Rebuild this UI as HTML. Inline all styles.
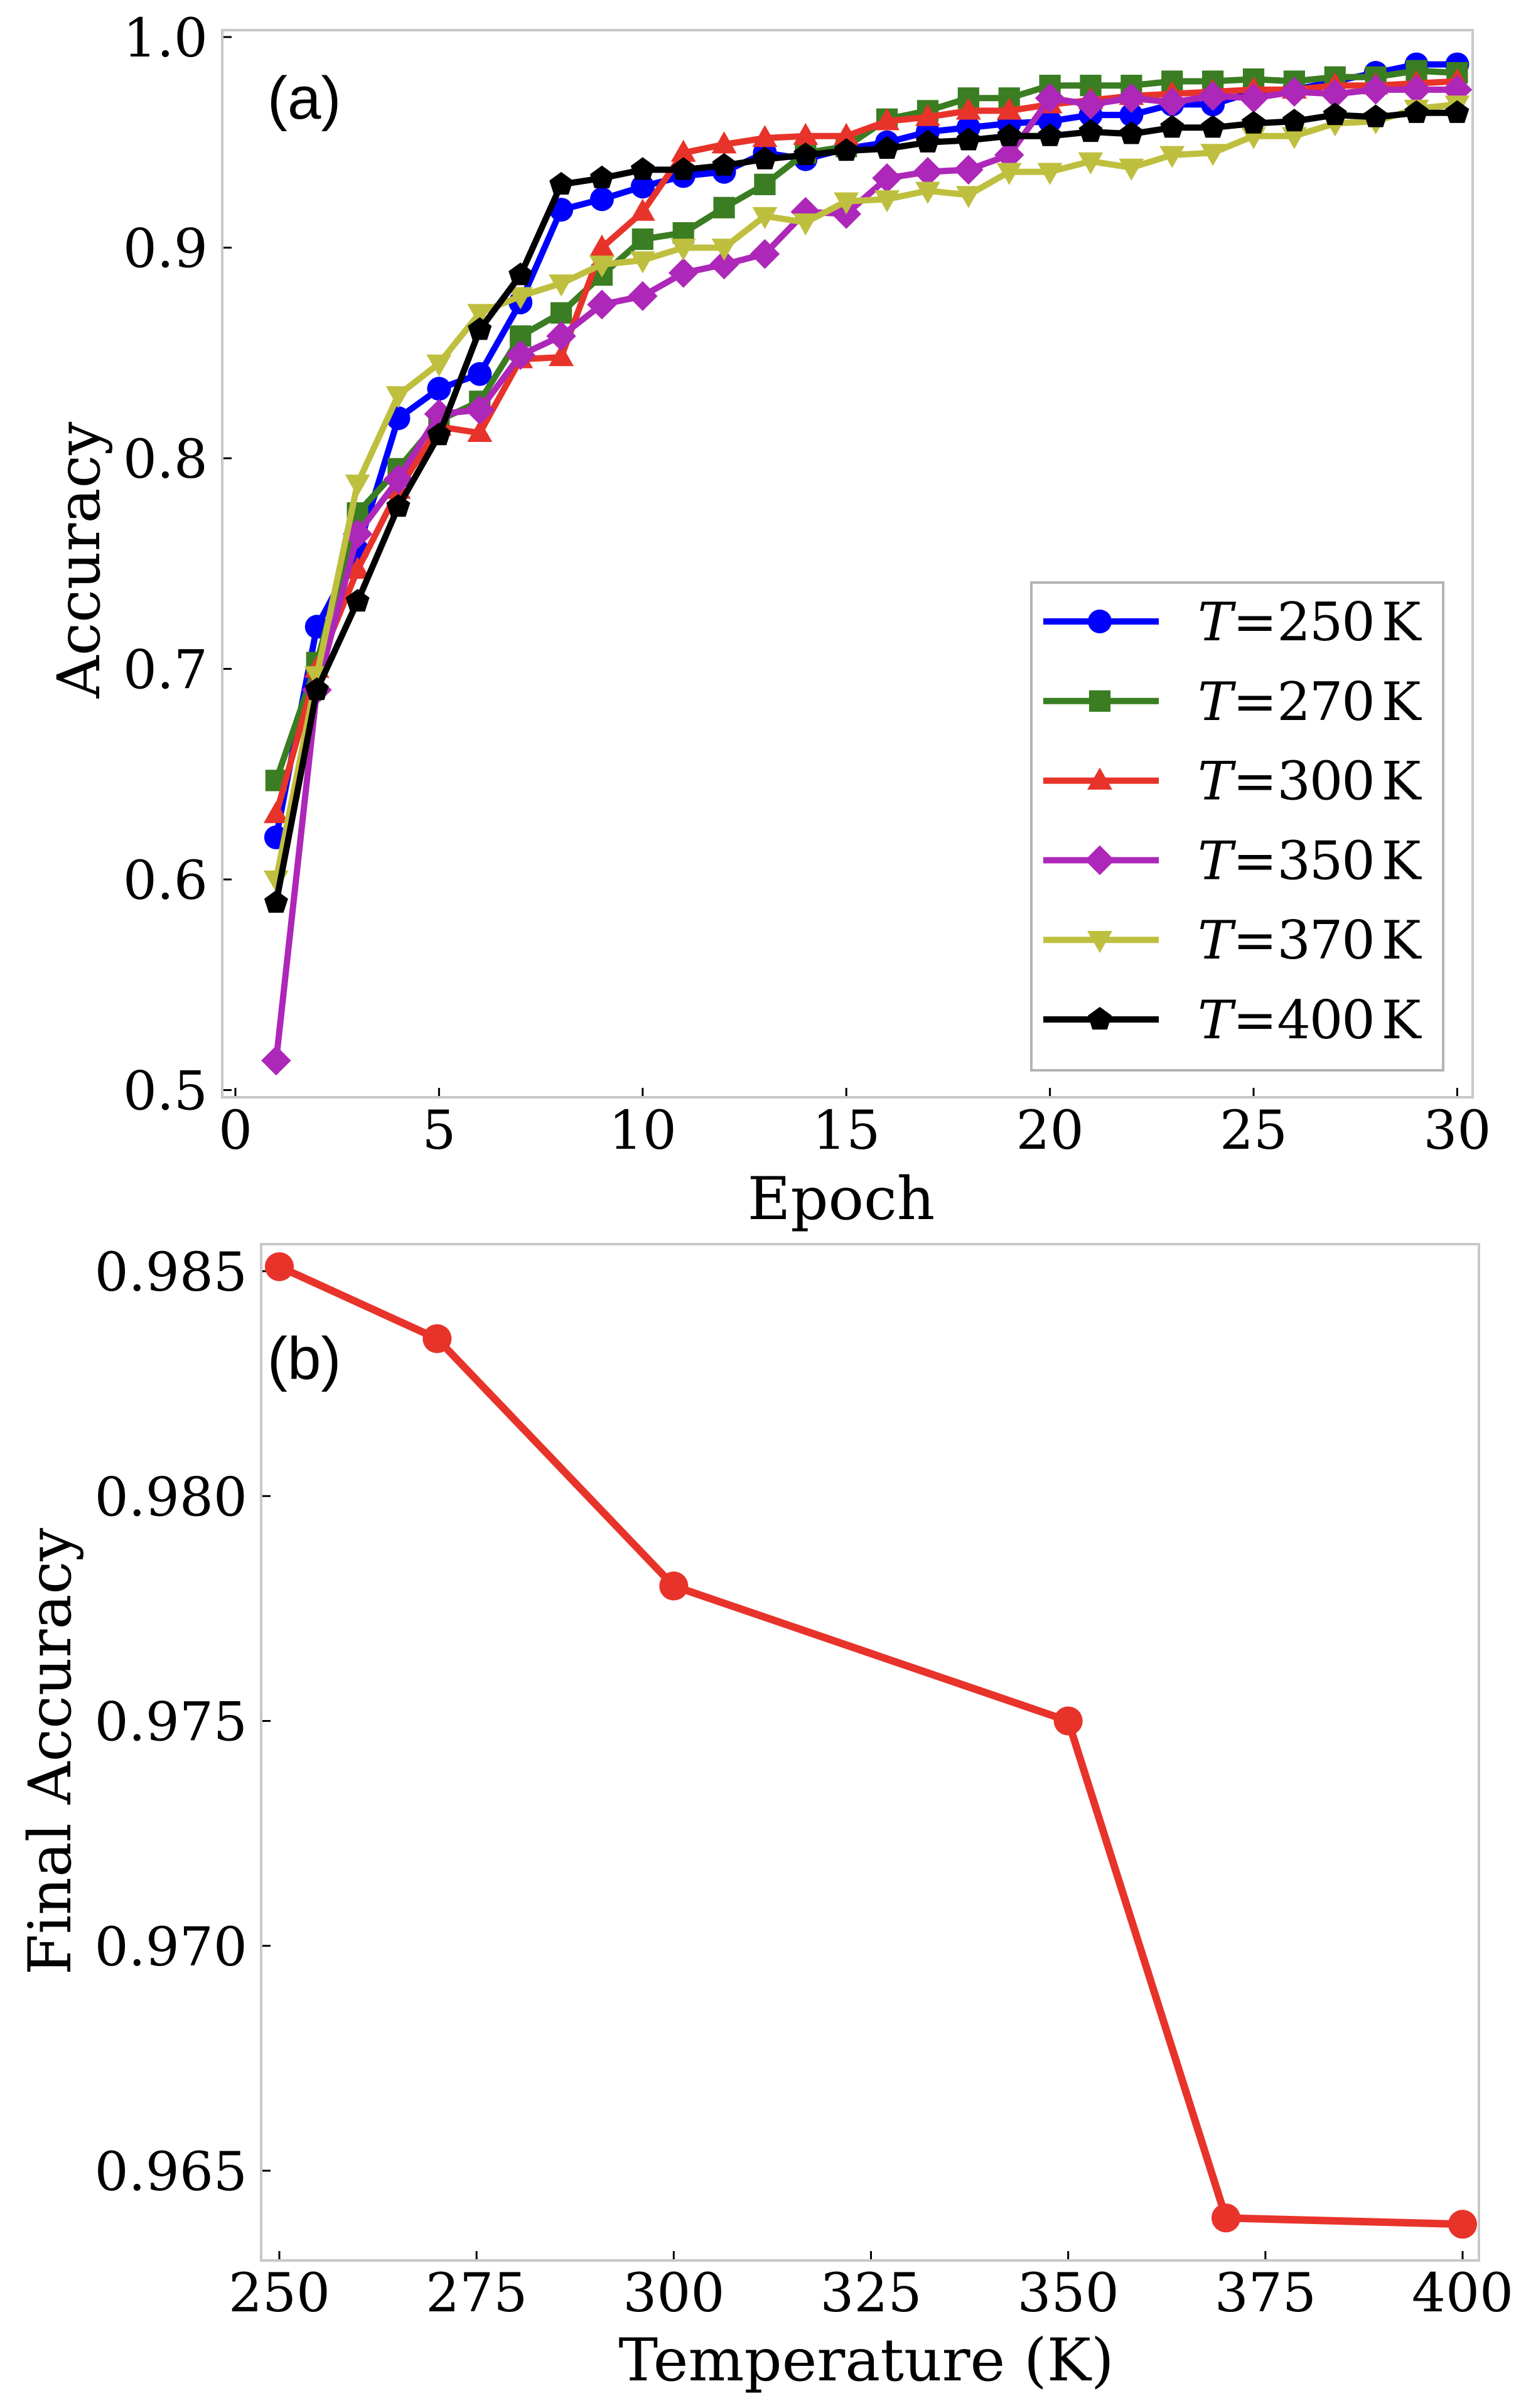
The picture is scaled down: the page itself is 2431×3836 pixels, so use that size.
<!DOCTYPE html>
<html><head><meta charset="utf-8"><style>
html,body{margin:0;padding:0;background:#fff}
svg{display:block}
text{font-family:"DejaVu Serif","Liberation Serif",serif;fill:#000}
</style></head><body>
<div style="position:relative;width:2431px;height:3836px">
<svg id="fig" width="2431" height="3836" viewBox="0 0 2431 3836" xmlns="http://www.w3.org/2000/svg" style="position:absolute;left:0;top:0">
<g id="gtop"></g>
<g id="gbot"></g>
<text x="126" y="892" font-size="94" text-anchor="middle" transform="rotate(-90 126 892)" dy="32">Accuracy</text>
<text x="1340" y="1942" font-size="94" text-anchor="middle">Epoch</text>
<text x="80" y="2790" font-size="94" text-anchor="middle" transform="rotate(-90 80 2790)" dy="32">Final Accuracy</text>
<text x="1380" y="3792" font-size="94" text-anchor="middle">Temperature (K)</text>
<text x="426" y="189" font-size="96" style="font-family:'Liberation Sans',sans-serif">(a)</text>
<text x="426" y="2197" font-size="96" style="font-family:'Liberation Sans',sans-serif">(b)</text>
</svg>
</div>
<script>
// ---------- Panel (a) data ----------
const epochs = [1,2,3,4,5,6,7,8,9,10,11,12,13,14,15,16,17,18,19,20,21,22,23,24,25,26,27,28,29,30];
const seriesLabels = ["250","270","300","350","370","400"];
const acc250 = [0.620,0.720,0.756,0.819,0.833,0.840,0.874,0.918,0.923,0.929,0.934,0.936,0.945,0.942,0.947,0.950,0.955,0.957,0.959,0.960,0.963,0.963,0.968,0.968,0.974,0.975,0.979,0.983,0.987,0.987];
const acc270 = [0.647,0.703,0.774,0.795,0.818,0.827,0.858,0.869,0.887,0.904,0.907,0.919,0.930,0.945,0.948,0.961,0.965,0.971,0.971,0.977,0.977,0.977,0.979,0.979,0.980,0.979,0.981,0.981,0.984,0.983];
const acc300 = [0.631,0.700,0.747,0.785,0.815,0.812,0.847,0.848,0.900,0.917,0.945,0.949,0.952,0.953,0.953,0.960,0.962,0.965,0.965,0.968,0.970,0.972,0.973,0.974,0.975,0.975,0.977,0.977,0.978,0.979];
const acc350 = [0.514,0.690,0.764,0.790,0.821,0.823,0.849,0.858,0.873,0.877,0.888,0.892,0.897,0.917,0.916,0.933,0.936,0.937,0.944,0.971,0.968,0.971,0.969,0.972,0.971,0.974,0.973,0.975,0.975,0.975];
const acc370 = [0.600,0.697,0.788,0.830,0.845,0.869,0.877,0.883,0.892,0.894,0.900,0.900,0.915,0.912,0.922,0.923,0.927,0.925,0.936,0.936,0.941,0.938,0.944,0.945,0.953,0.953,0.959,0.960,0.966,0.968];
const acc400 = [0.589,0.690,0.732,0.777,0.811,0.861,0.887,0.930,0.933,0.937,0.937,0.939,0.942,0.944,0.946,0.947,0.950,0.951,0.953,0.953,0.955,0.954,0.957,0.957,0.959,0.960,0.963,0.962,0.964,0.964];
const xTicksA = [0,5,10,15,20,25,30];
const yTicksA = [0.5,0.6,0.7,0.8,0.9,1.0];
const yTickLabelsA = ["0.5","0.6","0.7","0.8","0.9","1.0"];
// ---------- Panel (b) data ----------
const temps = [250,270,300,350,370,400];
const finalAcc = [0.9851,0.9835,0.9780,0.9750,0.96395,0.96381];
const xTicksB = [250,275,300,325,350,375,400];
const yTicksB = [0.965,0.970,0.975,0.980,0.985];
const yTickLabelsB = ["0.965","0.970","0.975","0.980","0.985"];

const NS="http://www.w3.org/2000/svg";
function mk(tag, attrs, parent){
  const e=document.createElementNS(NS,tag);
  for(const k in attrs) e.setAttribute(k, attrs[k]);
  parent.appendChild(e); return e;
}
const gTop=document.getElementById('gtop'), gBot=document.getElementById('gbot');

const xA = e => 375 + e*64.88;
const yA = v => 59 + (1-v)*3355;
const axA = {l:354,r:2346,t:48,b:1748};
const xB = t => 445 + (t-250)*(2330-445)/150;
const yB = v => 2025 + (0.985-v)*(3458-2025)/0.020;
const axB = {l:416,r:2356,t:1982,b:3601};

function frame(g, ax){
  const r=mk('rect',{x:ax.l,y:ax.t,width:ax.r-ax.l,height:ax.b-ax.t,fill:'none',stroke:'#c8c8c8','stroke-width':4},g);
  
  
}
frame(gTop,axA); frame(gBot,axB);

xTicksA.forEach(t=>{
  const x=xA(t);
  const l=mk('line',{x1:x,x2:x,y1:axA.b-2,y2:axA.b-15,stroke:'#000','stroke-width':3},gTop);
  
  
  const tx=mk('text',{x:x,y:1830,'font-size':85,'text-anchor':'middle'},gTop);
  tx.textContent=String(t);
  
  
});
yTicksA.forEach((t,i)=>{
  const y=yA(t);
  const l=mk('line',{x1:axA.l+2,x2:axA.l+15,y1:y,y2:y,stroke:'#000','stroke-width':3},gTop);
  
  
  const tx=mk('text',{x:331,y:y+31,'font-size':85,'text-anchor':'end'},gTop);
  tx.textContent=yTickLabelsA[i];
  
  
});
xTicksB.forEach(t=>{
  const x=xB(t);
  const l=mk('line',{x1:x,x2:x,y1:axB.b-2,y2:axB.b-15,stroke:'#000','stroke-width':3},gBot);
  
  
  const tx=mk('text',{x:x,y:3682,'font-size':85,'text-anchor':'middle'},gBot);
  tx.textContent=String(t);
  
  
});
yTicksB.forEach((t,i)=>{
  const y=yB(t);
  const l=mk('line',{x1:axB.l+2,x2:axB.l+15,y1:y,y2:y,stroke:'#000','stroke-width':3},gBot);
  
  
  const tx=mk('text',{x:394,y:y+31,'font-size':85,'text-anchor':'end'},gBot);
  tx.textContent=yTickLabelsB[i];
  
  
});

function marker(g, kind, cx, cy, color, s){
  let e;
  if(kind==='circle') e=mk('circle',{cx:cx,cy:cy,r:s,fill:color},g);
  else if(kind==='square') e=mk('rect',{x:cx-s*0.9,y:cy-s*0.9,width:s*1.8,height:s*1.8,fill:color},g);
  else if(kind==='tri-up') e=mk('polygon',{points:`${cx},${cy-s*1.1} ${cx-s*1.05},${cy+s*0.75} ${cx+s*1.05},${cy+s*0.75}`,fill:color},g);
  else if(kind==='tri-down') e=mk('polygon',{points:`${cx},${cy+s*1.1} ${cx-s*1.05},${cy-s*0.75} ${cx+s*1.05},${cy-s*0.75}`,fill:color},g);
  else if(kind==='diamond') e=mk('polygon',{points:`${cx},${cy-s*1.25} ${cx+s*1.25},${cy} ${cx},${cy+s*1.25} ${cx-s*1.25},${cy}`,fill:color},g);
  else {
    let pts=[];
    for(let k=0;k<5;k++){const a=-Math.PI/2+k*2*Math.PI/5; pts.push((cx+s*1.05*Math.cos(a)).toFixed(1)+','+(cy+s*1.05*Math.sin(a)).toFixed(1));}
    e=mk('polygon',{points:pts.join(' '),fill:color},g);
  }
  return e;
}

const seriesData=[acc250,acc270,acc300,acc350,acc370,acc400];
const colors=['#0000ff','#3a7d22','#e8332a','#ad27b8','#bfbf3f','#000000'];
const kinds=['circle','square','tri-up','diamond','tri-down','pentagon'];
seriesData.forEach((arr,si)=>{
  const g=mk('g',{},gTop);
  
  
  const pts=arr.map((v,i)=>xA(epochs[i]).toFixed(1)+','+yA(v).toFixed(1)).join(' ');
  const pl=mk('polyline',{points:pts,fill:'none',stroke:colors[si],'stroke-width':10,'stroke-linejoin':'round'},g);
  
  
  arr.forEach((v,i)=>{
    const m=marker(g,kinds[si],xA(epochs[i]),yA(v),colors[si],19);
    
    
  });
});

const lg=mk('g',{},gTop);


const lbox=mk('rect',{x:1643,y:928,width:656,height:777,fill:'#fff',stroke:'#b4b4b4','stroke-width':4},lg);


seriesLabels.forEach((lab,si)=>{
  const y=990+si*126.8;
  const ge=mk('g',{},lg);
  
  
  mk('line',{x1:1662,x2:1846,y1:y,y2:y,stroke:colors[si],'stroke-width':10},ge);
  marker(ge,kinds[si],1752,y,colors[si],19);
  const t=mk('text',{x:1908,y:y+30,'font-size':84,'letter-spacing':-2},ge);
  t.innerHTML='<tspan font-style="italic">T</tspan><tspan dx="2">=</tspan><tspan dx="2">'+lab+'</tspan><tspan dx="12">K</tspan>';
});

const gb=mk('g',{},gBot);


const plb=mk('polyline',{points:finalAcc.map((v,i)=>xB(temps[i]).toFixed(1)+','+yB(v).toFixed(1)).join(' '),fill:'none',stroke:'#e8332a','stroke-width':12,'stroke-linejoin':'round'},gb);


finalAcc.forEach((v,i)=>{
  const c=mk('circle',{cx:xB(temps[i]),cy:yB(v),r:23,fill:'#e8332a'},gb);
  
  
});
</script>
</body></html>
